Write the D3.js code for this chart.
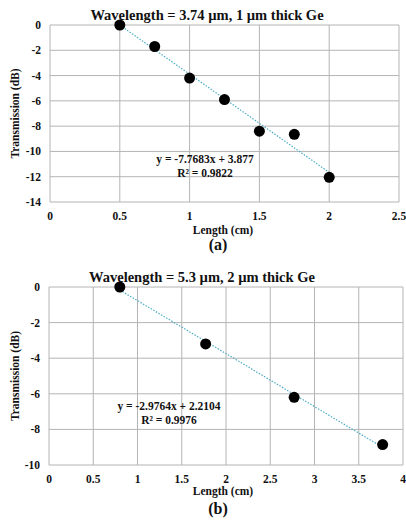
<!DOCTYPE html>
<html>
<head>
<meta charset="UTF-8">
<style>
  body { margin: 0; background: #fff; }
  text { font-family: "Liberation Serif", "Times New Roman", serif; font-weight: bold; fill: #111; }
  .grid line { stroke: #b4b4b4; stroke-width: 1px; }
</style>
</head>
<body>
<svg id="chart" width="406" height="523"></svg>
<script src="https://d3js.org/d3.v7.min.js"></script>
<script>
// panel (a)
var lenA = [0.5, 0.75, 1.0, 1.25, 1.5, 1.75, 2.0];
var trA = [0, -1.7, -4.2, -5.9, -8.4, -8.65, -12.05];
var xTicksA = [0, 0.5, 1, 1.5, 2, 2.5];
var yTicksA = [0, -2, -4, -6, -8, -10, -12, -14];
var fitA = { m: -7.7683, b: 3.877 };
var eqA = ["y = -7.7683x + 3.877", "R² = 0.9822"];

// panel (b)
var lenB = [0.8, 1.77, 2.77, 3.77];
var trB = [0, -3.2, -6.2, -8.85];
var xTicksB = [0, 0.5, 1, 1.5, 2, 2.5, 3, 3.5, 4];
var yTicksB = [0, -2, -4, -6, -8, -10];
var fitB = { m: -2.9764, b: 2.2104 };
var eqB = ["y = -2.9764x + 2.2104", "R² = 0.9976"];

var svg = d3.select("#chart");

function panel(opt) {
  var g = svg.append("g");
  var x = d3.scaleLinear().domain(opt.xDom).range([opt.left, opt.right]);
  var y = d3.scaleLinear().domain(opt.yDom).range([opt.bottom, opt.top]);

  // grid
  var grid = g.append("g").attr("class", "grid");
  grid.selectAll(".h").data(opt.yTicks).enter().append("line")
    .attr("x1", opt.left).attr("x2", opt.right)
    .attr("y1", d => y(d)).attr("y2", d => y(d));
  grid.selectAll(".v").data(opt.xTicks).enter().append("line")
    .attr("x1", d => x(d)).attr("x2", d => x(d))
    .attr("y1", opt.top).attr("y2", opt.bottom);

  // tick labels
  g.selectAll(".yl").data(opt.yTicks).enter().append("text")
    .attr("x", opt.left - 9).attr("y", d => y(d) + 4)
    .attr("text-anchor", "end").attr("font-size", 11.5)
    .text(d => d);
  g.selectAll(".xl").data(opt.xTicks).enter().append("text")
    .attr("x", d => x(d)).attr("y", opt.bottom + opt.tickDy)
    .attr("text-anchor", "middle").attr("font-size", 11.5)
    .text(d => d);

  // trendline
  var x0 = d3.min(opt.xs), x1 = d3.max(opt.xs);
  g.append("line")
    .attr("x1", x(x0)).attr("y1", y(opt.fit.m * x0 + opt.fit.b))
    .attr("x2", x(x1)).attr("y2", y(opt.fit.m * x1 + opt.fit.b))
    .attr("stroke", "#4bacc6").attr("stroke-width", 1.2)
    .attr("stroke-dasharray", "1.5,1.5");

  // points
  g.selectAll("circle").data(opt.xs).enter().append("circle")
    .attr("cx", d => x(d)).attr("cy", (d, i) => y(opt.ys[i]))
    .attr("r", 5.5).attr("fill", "#000");

  // equation
  g.selectAll(".eq").data(opt.eq).enter().append("text")
    .attr("x", opt.eqX).attr("y", (d, i) => opt.eqY + i * 14)
    .attr("text-anchor", "middle").attr("font-size", 11.5)
    .text(d => d);

  // titles
  g.append("text").attr("x", opt.titleX).attr("y", opt.top - 5)
    .attr("text-anchor", "middle").attr("font-size", 14.5).text(opt.title);
  g.append("text").attr("x", 223).attr("y", opt.bottom + opt.xTitleDy)
    .attr("text-anchor", "middle").attr("font-size", 11.5).text("Length (cm)");
  g.append("text")
    .attr("transform", "translate(19," + ((opt.top + opt.bottom) / 2) + ") rotate(-90)")
    .attr("text-anchor", "middle").attr("font-size", 11.5).text("Transmission (dB)");
  g.append("text").attr("x", 218).attr("y", opt.bottom + opt.labelDy)
    .attr("text-anchor", "middle").attr("font-size", 16).text(opt.label);
}

panel({
  xs: lenA, ys: trA, xTicks: xTicksA, yTicks: yTicksA, fit: fitA, eq: eqA,
  xDom: [0, 2.5], yDom: [-14, 0],
  left: 50, right: 399, top: 25, bottom: 202,
  tickDy: 18, xTitleDy: 32, labelDy: 48,
  title: "Wavelength = 3.74 µm, 1 µm thick Ge", titleX: 207,
  eqX: 205, eqY: 163, label: "(a)"
});

panel({
  xs: lenB, ys: trB, xTicks: xTicksB, yTicks: yTicksB, fit: fitB, eq: eqB,
  xDom: [0, 4], yDom: [-10, 0],
  left: 49, right: 403, top: 287, bottom: 465,
  tickDy: 18, xTitleDy: 30, labelDy: 49,
  title: "Wavelength = 5.3 µm, 2 µm thick Ge", titleX: 202,
  eqX: 169, eqY: 410, label: "(b)"
});
</script>
</body>
</html>
